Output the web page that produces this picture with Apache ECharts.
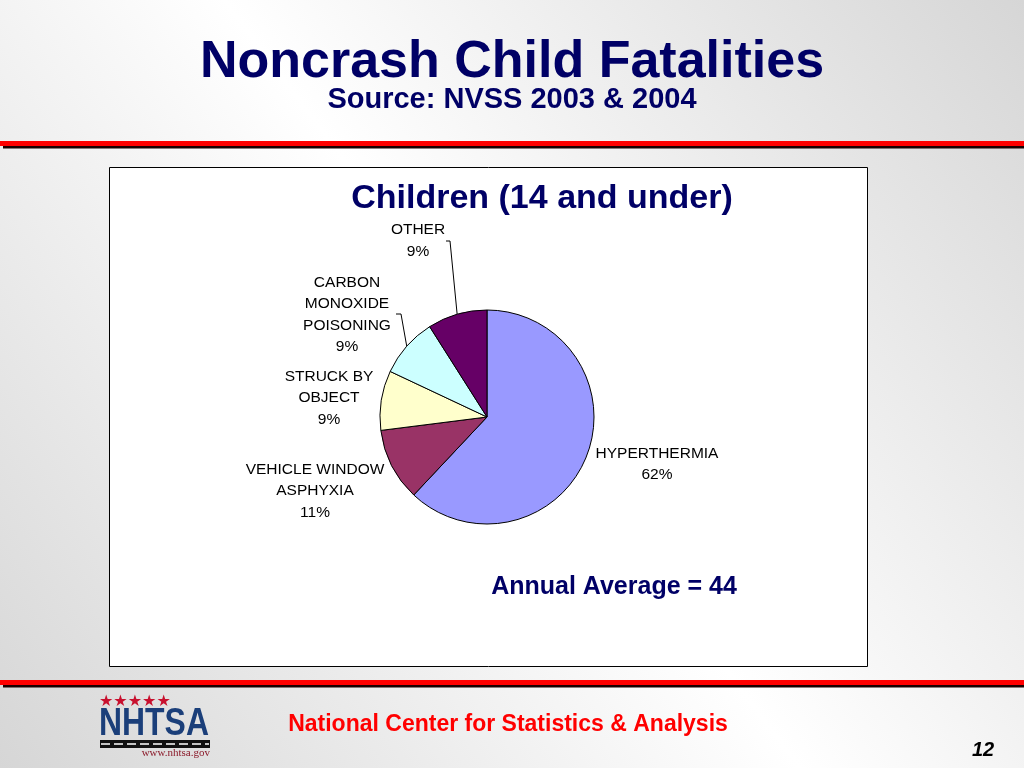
<!DOCTYPE html>
<html>
<head>
<meta charset="utf-8">
<script src="https://cdn.jsdelivr.net/npm/echarts@6/dist/echarts.min.js"></script>
<style>
html,body{margin:0;padding:0;}
#chart{width:1024px;height:768px;}
</style>
</head>
<body>
<div id="chart"></div>
<script>
// ---- data ----
const categories = ['HYPERTHERMIA', 'VEHICLE WINDOW\nASPHYXIA', 'STRUCK BY\nOBJECT', 'CARBON\nMONOXIDE\nPOISONING', 'OTHER'];
const shares = [62, 11, 9, 9, 9];
const sliceColors = ['#9999FF', '#993366', '#FFFFCC', '#CCFFFF', '#660066'];
const leaderShown = [false, false, false, true, true];

// ---- layout (not data) ----
const pieCenter = [487, 417];
const pieRadius = 107;
const labelOffsets = [[170, 47], [-172, 74], [-158, -19], [-140, -102.5], [-69, -176.5]];
const leaderElbows = [null, null, null, [[-91, -103], [-86, -103]], [[-41, -176], [-37, -176]]];

const navy = '#000066';
const font = 'Liberation Sans, Arial, Helvetica, sans-serif';

const chart = echarts.init(document.getElementById('chart'), null, {renderer: 'canvas'});

const pieData = categories.map((name, i) => ({
  name: name,
  value: shares[i],
  itemStyle: {color: sliceColors[i]},
  labelLine: {show: leaderShown[i]}
}));

function T(text, x, y, size, color, weight, align, extra) {
  return Object.assign({
    type: 'text', x: x, y: y, z: 10,
    style: {
      text: text, x: 0, y: 0, fill: color,
      fontSize: size, fontWeight: weight || 'normal', fontFamily: font,
      align: align || 'center', verticalAlign: 'middle'
    }
  }, extra || {});
}

const option = {
  animation: false,
  backgroundColor: {
    type: 'linear', x: 1, y: 0, x2: 0, y2: 1,
    colorStops: [
      {offset: 0, color: '#d6d6d6'},
      {offset: 0.5, color: '#ffffff'},
      {offset: 1, color: '#d6d6d6'}
    ]
  },
  graphic: {
    elements: [
      // top rule
      {type: 'rect', z: 1, shape: {x: 3, y: 146, width: 1021, height: 2.5}, style: {fill: '#1a0000'}},
      {type: 'rect', z: 1, shape: {x: 0, y: 141, width: 1024, height: 5}, style: {fill: '#ff0000'}},
      // bottom rule
      {type: 'rect', z: 1, shape: {x: 3, y: 685, width: 1021, height: 2.5}, style: {fill: '#1a0000'}},
      {type: 'rect', z: 1, shape: {x: 0, y: 680, width: 1024, height: 5}, style: {fill: '#ff0000'}},
      // chart frame
      {type: 'rect', z: 0, shape: {x: 109.5, y: 167.5, width: 758, height: 499}, style: {fill: '#ffffff', stroke: '#000000', lineWidth: 1}},
      // texts
      T('Noncrash Child Fatalities', 512, 63, 52, navy, 'bold'),
      T('Source: NVSS 2003 & 2004', 512, 100, 29, navy, 'bold'),
      T('Children (14 and under)', 542, 199, 34, navy, 'bold'),
      T('Annual Average = 44', 614, 587, 25, navy, 'bold'),
      T('National Center for Statistics & Analysis', 508, 725, 23, '#ff0000', 'bold'),
      {type: 'text', x: 983, y: 750, z: 10, style: {text: '12', x: 0, y: 0, fill: '#000000', fontSize: 20, fontWeight: 'bold', fontStyle: 'italic', fontFamily: font, align: 'center', verticalAlign: 'middle'}},
      // NHTSA logo
      {type: 'text', x: 99, y: 702, z: 10, style: {text: '★★★★★', x: 0, y: 0, fill: '#c8102e', fontSize: 16, fontFamily: 'DejaVu Sans', align: 'left', verticalAlign: 'middle'}},
      {type: 'text', x: 99, y: 725, z: 10, scaleX: 0.84, style: {text: 'NHTSA', x: 0, y: 0, fill: '#1b3f7a', fontSize: 38, fontWeight: 'bold', fontFamily: font, align: 'left', verticalAlign: 'middle'}},
      {type: 'rect', z: 10, shape: {x: 100, y: 740, width: 110, height: 8}, style: {fill: '#111111'}},
      {type: 'line', z: 11, shape: {x1: 101, y1: 744, x2: 209, y2: 744}, style: {stroke: '#ffffff', lineWidth: 1.5, lineDash: [9, 4]}},
      {type: 'text', x: 210, y: 753, z: 10, style: {text: 'www.nhtsa.gov', x: 0, y: 0, fill: '#8b1a2a', fontSize: 11, fontFamily: 'Liberation Serif, serif', align: 'right', verticalAlign: 'middle'}}
    ]
  },
  series: [{
    type: 'pie',
    z: 5,
    center: pieCenter,
    radius: pieRadius,
    startAngle: 90,
    clockwise: true,
    avoidLabelOverlap: false,
    data: pieData,
    itemStyle: {borderColor: '#000000', borderWidth: 1},
    label: {
      show: true,
      position: 'outside',
      formatter: '{b}\n{c}%',
      color: '#000000',
      fontSize: 15.5,
      fontFamily: font,
      lineHeight: 21.5,
      align: 'center'
    },
    labelLine: {
      length: 20, length2: 5,
      lineStyle: {color: '#000000', width: 1}
    },
    emphasis: {disabled: true},
    labelLayout: function (params) {
      const i = params.dataIndex;
      const res = {
        x: pieCenter[0] + labelOffsets[i][0],
        y: pieCenter[1] + labelOffsets[i][1],
        align: 'center',
        verticalAlign: 'middle'
      };
      if (leaderElbows[i] && params.labelLinePoints) {
        const e = leaderElbows[i];
        res.labelLinePoints = [
          params.labelLinePoints[0],
          [pieCenter[0] + e[1][0], pieCenter[1] + e[1][1]],
          [pieCenter[0] + e[0][0], pieCenter[1] + e[0][1]]
        ];
      }
      return res;
    }
  }]
};

chart.setOption(option);
</script>
</body>
</html>
